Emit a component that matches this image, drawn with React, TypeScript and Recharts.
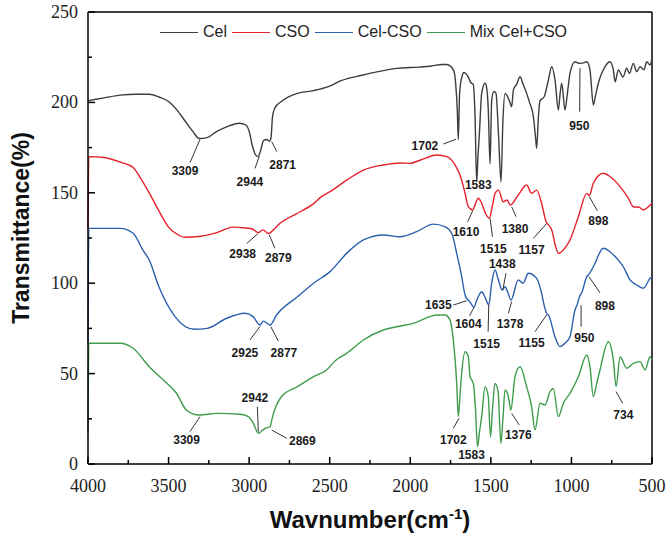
import React from "react";
import { LineChart, Line, XAxis, YAxis, Legend, ReferenceLine, ReferenceDot, Label } from "recharts";

// [wavenumber, transmittance]
const celPts: [number, number][] = [
  [4000, 201], [3900, 202.5], [3800, 204], [3700, 204.5], [3620, 204.5], [3560, 203], [3500, 200.5],
  [3450, 196], [3400, 190], [3350, 184], [3309, 180], [3260, 180.5], [3200, 184], [3140, 186.5],
  [3060, 188.5], [3020, 187.5], [3000, 184], [2980, 176], [2960, 171], [2944, 170], [2930, 173],
  [2910, 179], [2890, 179.5], [2875, 178.5], [2865, 180], [2855, 192], [2840, 197], [2800, 200.5],
  [2700, 205], [2600, 206.5], [2500, 209], [2430, 212], [2300, 215], [2200, 217], [2085, 218.8],
  [1950, 219.5], [1878, 220], [1800, 221], [1774, 221], [1750, 220], [1728, 217], [1718, 210],
  [1708, 195], [1702, 179.5], [1694, 205], [1680, 214], [1667, 216.5], [1656, 216], [1640, 214],
  [1625, 211], [1609, 210], [1598, 192], [1588, 156], [1580, 170], [1571, 183], [1557, 205],
  [1536, 210.6], [1526, 208], [1516, 196], [1505, 166], [1495, 201], [1481, 206], [1468, 205],
  [1453, 183], [1437, 156], [1425, 190], [1412, 205], [1395, 203], [1381, 200], [1371, 197.6],
  [1360, 206.9], [1340, 210], [1319, 214.2], [1300, 210], [1278, 205], [1260, 200], [1236, 192],
  [1222, 180], [1216, 174.6], [1205, 192], [1195, 201], [1170, 203], [1143, 212.4], [1122, 219.7],
  [1102, 212.4], [1081, 195.8], [1070, 205], [1060, 210.6], [1040, 195.8], [1025, 205], [1009, 216],
  [978, 222.5], [950, 221.6], [920, 222], [905, 222.5], [885, 218], [864, 198.6], [850, 204],
  [833, 210.6], [792, 219.7], [761, 222.5], [740, 218], [729, 211.4], [709, 218], [680, 214],
  [657, 218.9], [640, 216], [616, 221.6], [595, 217], [574, 219.7], [550, 218], [533, 222.5],
  [512, 220.7], [500, 224],
];

const csoPts: [number, number][] = [
  [4000, 130], [3995, 170], [3900, 169.5], [3800, 167], [3720, 164], [3680, 159], [3620, 150],
  [3560, 140], [3500, 131], [3440, 126.7], [3400, 125.4], [3300, 126], [3200, 128], [3100, 131],
  [3020, 130.5], [2980, 130], [2943, 128], [2915, 129.5], [2879, 127.5], [2850, 129.5], [2810, 133],
  [2700, 138.7], [2600, 144], [2550, 148], [2498, 150.6], [2395, 157], [2291, 162.6], [2167, 165.4],
  [2060, 166.5], [2002, 166.3], [1940, 168], [1836, 170.9], [1774, 170], [1722, 165.4], [1681, 157],
  [1660, 149.7], [1640, 142.3], [1613, 140.5], [1595, 144], [1578, 147], [1557, 144.2], [1530, 138],
  [1510, 135.9], [1490, 143], [1474, 149.7], [1453, 151.5], [1423, 145], [1400, 146], [1380, 143.2],
  [1330, 148.8], [1278, 154.3], [1247, 149.7], [1216, 151.5], [1185, 144.2], [1157, 134], [1140, 132],
  [1122, 129.4], [1100, 121], [1081, 116.5], [1050, 118.4], [1009, 123.9], [957, 136.8], [905, 149.7],
  [889, 148.5], [864, 155.3], [802, 160.8], [761, 159], [698, 153.4], [647, 147], [616, 142.3],
  [580, 142], [554, 140.5], [523, 142.3], [500, 144.2],
];

const celCsoPts: [number, number][] = [
  [4000, 67], [3995, 130.3], [3800, 130.3], [3720, 127.6], [3660, 118.4], [3620, 112.8], [3560, 98],
  [3460, 81.5], [3340, 74.5], [3260, 75], [3140, 80.6], [3026, 83.4], [2975, 81.5], [2933, 76.9],
  [2912, 79], [2870, 76.9], [2830, 82.4], [2700, 92.5], [2600, 100], [2498, 106.4], [2395, 116.5],
  [2291, 123.9], [2167, 126.7], [2064, 125.7], [1960, 128.5], [1857, 132.7], [1785, 131.3],
  [1743, 127.6], [1712, 116.5], [1681, 103.6], [1660, 93.5], [1640, 90.7], [1625, 89], [1605, 86.6],
  [1590, 90], [1557, 95.3], [1535, 92], [1513, 88], [1495, 100], [1474, 107.3], [1453, 101.8],
  [1430, 96.2], [1412, 98], [1395, 95], [1375, 90.7], [1330, 101.8], [1300, 100], [1267, 105.5],
  [1216, 102.7], [1185, 94.4], [1170, 88], [1154, 83.4], [1140, 82], [1102, 70.4], [1071, 64.9],
  [1040, 66.8], [1009, 70.4], [978, 85.2], [965, 88], [950, 92.5], [935, 95], [905, 103.6],
  [891, 105], [864, 109.1], [802, 119.3], [761, 117.4], [719, 113.8], [678, 109.1], [636, 101.8],
  [595, 99], [554, 97.2], [512, 102.7], [500, 103.6],
];

const mixPts: [number, number][] = [
  [4000, 17], [3995, 66.8], [3800, 66.8], [3720, 64], [3620, 53.8], [3510, 44.6], [3450, 39],
  [3390, 29.9], [3309, 27.1], [3200, 28], [3057, 27.5], [3005, 26.2], [2974, 22.5], [2942, 17],
  [2920, 18.5], [2900, 19.7], [2869, 20.6], [2860, 24.3], [2800, 37.2], [2700, 42.8], [2600, 48.3],
  [2520, 52], [2460, 57.5], [2395, 61.2], [2291, 68.6], [2167, 74.1], [2084, 75.9], [1981, 77.8],
  [1878, 81.5], [1836, 82.4], [1785, 82.4], [1753, 79.6], [1733, 68.6], [1712, 44.6], [1702, 26.2],
  [1690, 40], [1681, 50.2], [1660, 62.1], [1640, 59.3], [1629, 48.3], [1609, 44.6], [1595, 30],
  [1583, 9.6], [1570, 18], [1557, 26.2], [1536, 42.8], [1516, 37.2], [1502, 15.1], [1490, 30],
  [1474, 44.6], [1455, 40], [1438, 11.4], [1425, 25], [1412, 40.9], [1391, 37.2], [1376, 29.9],
  [1350, 48.3], [1319, 53.8], [1278, 42.8], [1247, 31.7], [1226, 18.8], [1195, 33.6], [1164, 32.6],
  [1133, 40], [1112, 41.8], [1081, 26.2], [1050, 33.6], [1009, 39.1], [957, 48.3], [905, 60.3],
  [885, 53.8], [864, 37.2], [843, 44.6], [823, 52], [771, 67.6], [740, 57.5], [723, 42.8],
  [698, 59.3], [657, 52.9], [616, 55.7], [574, 56.6], [543, 52], [512, 59.3], [500, 57.5],
];

const series = [
  { name: "Cel", color: "#3d3d3d", pts: celPts },
  { name: "CSO", color: "#e5212b", pts: csoPts },
  { name: "Cel-CSO", color: "#2b60ae", pts: celCsoPts },
  { name: "Mix Cel+CSO", color: "#3f9c4d", pts: mixPts },
];

const xTicks = [4000, 3750, 3500, 3250, 3000, 2750, 2500, 2250, 2000, 1750, 1500, 1250, 1000, 750, 500];
const yTicks = [0, 25, 50, 75, 100, 125, 150, 175, 200, 225, 250];

// peak labels: text centre and optional leader line, in chart units
type Note = { text: string; at: [number, number]; line?: [[number, number], [number, number]] };
const notes: Note[] = [
  { text: "3309", at: [3398, 162], line: [[3305, 179.6], [3367, 166.7]] },
  { text: "2944", at: [2995, 156.2], line: [[2937, 170], [2964, 163.5]] },
  { text: "2871", at: [2792, 165.4], line: [[2860, 178.3], [2829, 172.8]] },
  { text: "1702", at: [1909, 176], line: [[1795, 177], [1716, 179.6]] },
  { text: "1583", at: [1578, 154.3] },
  { text: "950", at: [951, 187.3], line: [[947, 218.9], [949, 194.9]] },

  { text: "2938", at: [3040, 116.5], line: [[2943, 127.6], [3015, 122]] },
  { text: "2879", at: [2819, 114.1], line: [[2875, 126.7], [2840, 119.3]] },
  { text: "1610", at: [1654, 128.5], line: [[1613, 140], [1644, 134]] },
  { text: "1515", at: [1484, 119.3], line: [[1505, 135.9], [1490, 125.7]] },
  { text: "1380", at: [1350, 130.3], line: [[1371, 142.3], [1344, 136.8]] },
  { text: "1157", at: [1247, 118.7], line: [[1154, 133], [1236, 124.8]] },
  { text: "898", at: [833, 134.6], line: [[889, 147.9], [839, 140]] },

  { text: "2925", at: [3026, 61.6], line: [[2933, 76], [2995, 68.6]] },
  { text: "2877", at: [2784, 61.6], line: [[2866, 76], [2819, 68]] },
  { text: "1635", at: [1826, 87.9], line: [[1733, 87.9], [1650, 90.3]] },
  { text: "1604", at: [1640, 77.4], line: [[1605, 86.6], [1632, 82]] },
  { text: "1515", at: [1526, 66.4], line: [[1513, 88], [1517, 73.2]] },
  { text: "1438", at: [1429, 111], line: [[1406, 105.5], [1426, 96.2]] },
  { text: "1378", at: [1381, 77.4], line: [[1371, 89.8], [1391, 83.4]] },
  { text: "1155", at: [1247, 66.8], line: [[1154, 82.4], [1226, 73.2]] },
  { text: "950", at: [920, 70], line: [[940, 87.9], [940, 76]] },
  { text: "898", at: [792, 87.4], line: [[891, 103.6], [823, 94.7]] },

  { text: "3309", at: [3388, 13.3], line: [[3305, 26.2], [3367, 17.9]] },
  { text: "2942", at: [2964, 36.9], line: [[2949, 31.7], [2943, 17.9]] },
  { text: "2869", at: [2670, 12.7], line: [[2860, 18.8], [2767, 14.2]] },
  { text: "1702", at: [1733, 13.3], line: [[1698, 25.3], [1733, 19.7]] },
  { text: "1583", at: [1620, 5] },
  { text: "1376", at: [1330, 16], line: [[1371, 28], [1324, 21.6]] },
  { text: "734", at: [678, 27.1], line: [[723, 40], [682, 33.6]] },
];

const sans = "'Liberation Sans', Arial, sans-serif";
const serif = "'Liberation Serif', 'Times New Roman', serif";

const XTick = (props: any) => {
  const { x, y, payload } = props;
  const major = payload.value % 500 === 0;
  return (
    <g>
      <line x1={x} x2={x} y1={y} y2={y - (major ? 7 : 4)} stroke="#000" strokeWidth={1.5} />
      {major && (
        <text x={x} y={y + 28} textAnchor="middle" fontFamily={serif} fontSize={18} fill="#222">
          {payload.value}
        </text>
      )}
    </g>
  );
};

const YTick = (props: any) => {
  const { x, y, payload } = props;
  const major = payload.value % 50 === 0;
  return (
    <g>
      <line x1={x} x2={x + (major ? 7 : 4)} y1={y} y2={y} stroke="#000" strokeWidth={1.5} />
      {major && (
        <text x={x - 10} y={y + 6} textAnchor="end" fontFamily={serif} fontSize={18} fill="#222">
          {payload.value}
        </text>
      )}
    </g>
  );
};

const LegendRow = () => (
  <div style={{ display: "flex", alignItems: "center", fontFamily: sans, fontSize: 16, color: "#222" }}>
    {series.map((s) => (
      <div key={s.name} style={{ display: "flex", alignItems: "center", marginRight: 5 }}>
        <span style={{ display: "inline-block", width: 38, height: 0, borderTop: `1.5px solid ${s.color}`, marginRight: 5 }} />
        <span>{s.name}</span>
      </div>
    ))}
  </div>
);

export default function App() {
  return (
    <div style={{ position: "absolute", left: 0, top: 0, background: "#fff" }}>
      <LineChart width={671} height={536} margin={{ top: 12, right: 19, bottom: 42, left: 28 }}>
        <XAxis
          type="number"
          dataKey="w"
          domain={[500, 4000]}
          reversed
          ticks={xTicks}
          interval={0}
          tickSize={0}
          tickMargin={0}
          tick={<XTick />}
          tickLine={false}
          height={30}
          axisLine={{ stroke: "#000", strokeWidth: 1.5 }}
        >
          <Label
            content={() => (
              <text x={370} y={528} textAnchor="middle" fontFamily={sans} fontWeight="bold" fontSize={24} fill="#111">
                Wavnumber(cm
                <tspan fontSize={15} dy={-9}>-1</tspan>
                <tspan dy={9}>)</tspan>
              </text>
            )}
          />
        </XAxis>
        <YAxis
          type="number"
          domain={[0, 250]}
          ticks={yTicks}
          interval={0}
          tickSize={0}
          tickMargin={0}
          tick={<YTick />}
          tickLine={false}
          width={60}
          axisLine={{ stroke: "#000", strokeWidth: 1.5 }}
        >
          <Label
            content={() => (
              <text
                x={21}
                y={228}
                transform="rotate(-90, 21, 228)"
                textAnchor="middle"
                dominantBaseline="central"
                fontFamily={sans}
                fontWeight="bold"
                fontSize={23}
                fill="#111"
              >
                Transmittance(%)
              </text>
            )}
          />
        </YAxis>
        <ReferenceLine y={250} stroke="#000" strokeWidth={1.5} />
        <ReferenceLine x={500} stroke="#000" strokeWidth={1.5} />
        <Legend
          verticalAlign="middle"
          align="center"
          content={() => <LegendRow />}
          wrapperStyle={{ top: 23, left: 160, width: 480 }}
        />
        {series.map((s) => (
          <Line
            key={s.name}
            name={s.name}
            data={s.pts.map(([w, t]) => ({ w, t }))}
            dataKey="t"
            stroke={s.color}
            strokeWidth={1.4}
            dot={false}
            type="monotone"
            isAnimationActive={false}
          />
        ))}
        {notes.map((n, i) =>
          n.line ? (
            <ReferenceLine
              key={`l${i}`}
              segment={[{ x: n.line[0][0], y: n.line[0][1] }, { x: n.line[1][0], y: n.line[1][1] }]}
              stroke="#333"
              strokeWidth={1}
              ifOverflow="visible"
            />
          ) : null
        )}
        {notes.map((n, i) => (
          <ReferenceDot
            key={`t${i}`}
            x={n.at[0]}
            y={n.at[1]}
            r={0}
            fill="none"
            stroke="none"
            ifOverflow="visible"
            label={{
              value: n.text,
              position: "center",
              fill: "#1a1a1a",
              fontSize: 12,
              fontWeight: "bold",
              fontFamily: sans,
            }}
          />
        ))}
      </LineChart>
    </div>
  );
}
